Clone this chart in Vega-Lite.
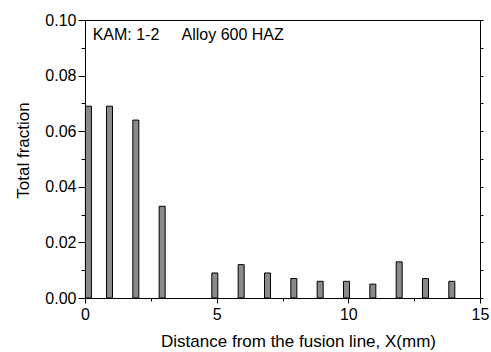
{
  "$schema": "https://vega.github.io/schema/vega-lite/v6.json",
  "autosize": "none",
  "width": 395,
  "height": 278,
  "padding": {"left": 85, "top": 20, "right": 11, "bottom": 54},
  "background": "white",
  "config": {
    "view": {"stroke": "black", "strokeWidth": 1},
    "axis": {"grid": false, "domainColor": "black", "tickColor": "black", "labelColor": "black", "titleColor": "black", "labelFont": "Liberation Sans", "titleFont": "Liberation Sans", "labelFontSize": 16, "titleFontSize": 17, "titleFontWeight": "normal", "labelFlush": false}
  },
  "layer": [
    {
      "data": {
        "values": [
          {"distance": 0.13, "fraction": 0.069},
          {"distance": 0.93, "fraction": 0.069},
          {"distance": 1.93, "fraction": 0.064},
          {"distance": 2.93, "fraction": 0.033},
          {"distance": 4.93, "fraction": 0.009},
          {"distance": 5.93, "fraction": 0.012},
          {"distance": 6.93, "fraction": 0.009},
          {"distance": 7.93, "fraction": 0.007},
          {"distance": 8.93, "fraction": 0.006},
          {"distance": 9.93, "fraction": 0.006},
          {"distance": 10.93, "fraction": 0.005},
          {"distance": 11.93, "fraction": 0.013},
          {"distance": 12.93, "fraction": 0.007},
          {"distance": 13.93, "fraction": 0.006}
        ]
      },
      "mark": {"type": "bar", "width": 6, "fill": "#8a8a8a", "stroke": "black", "strokeWidth": 1},
      "encoding": {
        "x": {
          "field": "distance", "type": "quantitative",
          "scale": {"domain": [0, 15], "nice": false, "zero": false, "padding": 0},
          "axis": {
            "title": "Distance from the fusion line, X(mm)",
            "values": [0, 2.5, 5, 7.5, 10, 12.5, 15],
            "labelExpr": "datum.value % 5 == 0 ? format(datum.value, 'd') : ''",
            "tickSize": {"condition": {"test": "datum.value % 5 != 0", "value": 3}, "value": 5},
            "labelPadding": 3,
            "titleX": 213,
            "titleY": 48,
            "titleAlign": "center",
            "titleBaseline": "alphabetic",
            "domain": false
          }
        },
        "y": {
          "field": "fraction", "type": "quantitative",
          "scale": {"domain": [0, 0.1], "nice": false, "padding": 0},
          "axis": {
            "title": "Total fraction",
            "values": [0, 0.01, 0.02, 0.03, 0.04, 0.05, 0.06, 0.07, 0.08, 0.09, 0.1],
            "labelExpr": "round(datum.value * 100) % 2 == 0 ? format(datum.value, '.2f') : ''",
            "tickSize": {"condition": {"test": "round(datum.value * 100) % 2 == 1", "value": 4}, "value": 7},
            "labelPadding": 2,
            "titleX": -57,
            "titleY": 130,
            "titleAngle": -90,
            "titleAlign": "center",
            "titleBaseline": "alphabetic",
            "domain": false
          }
        }
      }
    },
    {
      "data": {"values": [{"label": "KAM: 1-2\u00a0\u00a0\u00a0\u00a0\u00a0Alloy 600 HAZ"}]},
      "mark": {"type": "text", "align": "left", "baseline": "alphabetic", "fontSize": 16, "font": "Liberation Sans", "fontWeight": "normal", "fill": "black"},
      "encoding": {
        "text": {"field": "label"},
        "x": {"datum": 0.29, "type": "quantitative"},
        "y": {
          "datum": 0.0929, "type": "quantitative",
          "axis": {
            "orient": "right", "title": null, "labels": false, "domain": false,
            "values": [0, 0.01, 0.02, 0.03, 0.04, 0.05, 0.06, 0.07, 0.08, 0.09, 0.1],
            "tickSize": 3
          }
        }
      }
    }
  ],
  "resolve": {"axis": {"y": "independent"}}
}
